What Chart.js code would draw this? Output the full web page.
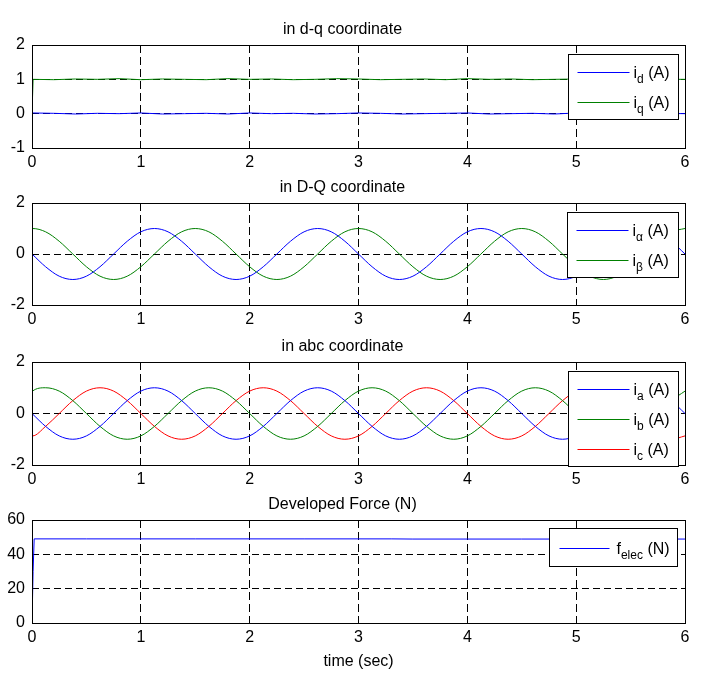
<!DOCTYPE html>
<html>
<head>
<meta charset="utf-8">
<script src="https://cdn.jsdelivr.net/npm/chart.js"></script>
<style>
body {
  margin: 0;
  background: #fff;
}
#wrap {
  position: relative;
  width: 723px;
  height: 674px;
  background: #fff;
}
canvas {
  position: absolute;
  left: 0;
}
</style>
</head>
<body>

<div id="wrap">
  <canvas id="chartDQ" width="723" height="158" style="top:15px"></canvas>
  <canvas id="chartAB" width="723" height="157" style="top:173px"></canvas>
  <canvas id="chartABC" width="723" height="158" style="top:332px"></canvas>
  <canvas id="chartF" width="723" height="184" style="top:490px"></canvas>
</div>

<script>

// ==========================
// data
// ==========================

// d-q currents (A)
const tDQ = [0, 0.01, 0.2, 0.4, 0.6, 0.8, 1.0, 1.2, 1.4, 1.6, 1.8, 2.0, 2.2, 2.4, 2.6, 2.8,
  3.0, 3.2, 3.4, 3.6, 3.8, 4.0, 4.2, 4.4, 4.6, 4.8, 5.0, 5.2, 5.4, 5.6, 5.8, 6.0];
const iD = [0, 0.02, 0.01, -0.01, 0.01, 0.0, 0.02, -0.01, 0.0, 0.01, -0.01, 0.02, 0.0, 0.01, -0.01, 0.0,
  0.02, 0.01, -0.01, 0.0, 0.01, 0.02, -0.01, 0.0, 0.01, -0.01, 0.02, 0.0, 0.01, 0.0, 0.01, 0.0];
const iQ = [0, 1.0, 0.99, 1.01, 1.0, 1.02, 0.99, 1.01, 1.0, 0.99, 1.02, 1.0, 1.01, 0.99, 1.0, 1.02,
  1.01, 0.99, 1.0, 1.01, 0.99, 1.02, 1.0, 1.01, 0.99, 1.0, 1.01, 1.0, 0.99, 1.01, 1.0, 1.0];

// stationary / phase currents (A)
const tAC = [0, 0.005, 0.125, 0.25, 0.375, 0.5, 0.625, 0.75, 0.875, 1, 1.125, 1.25, 1.375,
  1.5, 1.625, 1.75, 1.875, 2, 2.125, 2.25, 2.375, 2.5, 2.625, 2.75, 2.875,
  3, 3.125, 3.25, 3.375, 3.5, 3.625, 3.75, 3.875, 4, 4.125, 4.25, 4.375,
  4.5, 4.625, 4.75, 4.875, 5, 5.125, 5.25, 5.375, 5.5, 5.625, 5.75, 5.875, 6];

const iAlpha = [0, -0.02,
  -0.5, -0.87, -1, -0.87, -0.5, 0, 0.5, 0.87, 1, 0.87, 0.5, 0,
  -0.5, -0.87, -1, -0.87, -0.5, 0, 0.5, 0.87, 1, 0.87, 0.5, 0,
  -0.5, -0.87, -1, -0.87, -0.5, 0, 0.5, 0.87, 1, 0.87, 0.5, 0,
  -0.5, -0.87, -1, -0.87, -0.5, 0, 0.5, 0.87, 1, 0.87, 0.5, 0];

const iBeta = [0, 1,
  0.87, 0.5, 0, -0.5, -0.87, -1, -0.87, -0.5, 0, 0.5, 0.87, 1,
  0.87, 0.5, 0, -0.5, -0.87, -1, -0.87, -0.5, 0, 0.5, 0.87, 1,
  0.87, 0.5, 0, -0.5, -0.87, -1, -0.87, -0.5, 0, 0.5, 0.87, 1,
  0.87, 0.5, 0, -0.5, -0.87, -1, -0.87, -0.5, 0, 0.5, 0.87, 1];

const iA = [0, -0.02,
  -0.5, -0.87, -1, -0.87, -0.5, 0, 0.5, 0.87, 1, 0.87, 0.5, 0,
  -0.5, -0.87, -1, -0.87, -0.5, 0, 0.5, 0.87, 1, 0.87, 0.5, 0,
  -0.5, -0.87, -1, -0.87, -0.5, 0, 0.5, 0.87, 1, 0.87, 0.5, 0,
  -0.5, -0.87, -1, -0.87, -0.5, 0, 0.5, 0.87, 1, 0.87, 0.5, 0];

const iB = [0, 0.87,
  1, 0.87, 0.5, 0, -0.5, -0.87, -1, -0.87, -0.5, 0, 0.5, 0.87,
  1, 0.87, 0.5, 0, -0.5, -0.87, -1, -0.87, -0.5, 0, 0.5, 0.87,
  1, 0.87, 0.5, 0, -0.5, -0.87, -1, -0.87, -0.5, 0, 0.5, 0.87,
  1, 0.87, 0.5, 0, -0.5, -0.87, -1, -0.87, -0.5, 0, 0.5, 0.87];

const iC = [0, -0.87,
  -0.5, 0, 0.5, 0.87, 1, 0.87, 0.5, 0, -0.5, -0.87, -1, -0.87,
  -0.5, 0, 0.5, 0.87, 1, 0.87, 0.5, 0, -0.5, -0.87, -1, -0.87,
  -0.5, 0, 0.5, 0.87, 1, 0.87, 0.5, 0, -0.5, -0.87, -1, -0.87,
  -0.5, 0, 0.5, 0.87, 1, 0.87, 0.5, 0, -0.5, -0.87, -1, -0.87];

// developed force (N)
const tF = [0, 0.01, 0.02, 0.5, 1, 1.5, 2, 2.5, 3, 3.3, 3.5, 4, 4.5, 5, 5.5, 6];
const fElec = [0, 30, 49, 49, 49, 49, 49, 49, 49, 49, 48.9, 48.9, 48.9, 48.9, 48.9, 48.9];

// legend texts: [main, subscript, tail]
const dqLabels = [["i", "d", " (A)"], ["i", "q", " (A)"]];
const abLabels = [["i", "\u03b1", " (A)"], ["i", "\u03b2", " (A)"]];
const abcLabels = [["i", "a", " (A)"], ["i", "b", " (A)"], ["i", "c", " (A)"]];
const fLabels = [["f", "elec", " (N)"]];

const titles = ["in d-q coordinate", "in D-Q coordinate", "in abc coordinate", "Developed Force (N)"];
const xTitle = "time (sec)";


// ==========================
// style
// ==========================

const FONT = "'Liberation Sans', Arial, Helvetica, sans-serif";
const BLUE = "#0000ff";
const GREEN = "#008000";
const RED = "#ff0000";


// ==========================
// frame + legend plugin
// ==========================

function alignPx(v) {
  return Math.round(v - 0.5) + 0.5;
}

const frameLegend = {
  id: "frameLegend",
  afterDatasetsDraw(chart, args, opts) {

    const { ctx, chartArea: a } = chart;

    ctx.save();
    ctx.strokeStyle = "#000";
    ctx.lineWidth = 1;
    ctx.setLineDash([]);

    const l = alignPx(a.left), r = alignPx(a.right);
    const t = alignPx(a.top), b = alignPx(a.bottom);
    ctx.strokeRect(l, t, r - l, b - t);

    const x0 = Math.round(a.right - opts.right - opts.width) + 0.5;
    const y0 = Math.round(a.top + opts.top) + 0.5;

    ctx.fillStyle = "#fff";
    ctx.fillRect(x0, y0, opts.width, opts.height);
    ctx.strokeRect(x0, y0, opts.width, opts.height);

    chart.data.datasets.forEach((ds, i) => {

      const y = Math.round(y0 + opts.first + i * opts.step) + 0.5;

      ctx.strokeStyle = ds.borderColor;
      ctx.beginPath();
      ctx.moveTo(x0 + opts.lineFrom, y);
      ctx.lineTo(x0 + opts.lineTo, y);
      ctx.stroke();

      const [main, sub, tail] = ds.legendText;
      let x = x0 + opts.textX;
      const base = y + 5;

      ctx.fillStyle = "#000";
      ctx.textBaseline = "alphabetic";
      ctx.textAlign = "left";

      ctx.font = "16px " + FONT;
      ctx.fillText(main, x, base);
      x += ctx.measureText(main).width;

      ctx.font = "12px " + FONT;
      ctx.fillText(sub, x, base + 5);
      x += ctx.measureText(sub).width;

      ctx.font = "16px " + FONT;
      ctx.fillText(tail, x, base);

    });

    ctx.restore();
  }
};


// ==========================
// chart builder
// ==========================

function series(ts, vs, color, text, smooth) {
  return {
    data: ts.map((t, i) => ({ x: t, y: vs[i] })),
    borderColor: color,
    borderWidth: 1,
    pointRadius: 0,
    fill: false,
    tension: smooth ? 0.4 : 0,
    cubicInterpolationMode: smooth ? "monotone" : "default",
    legendText: text
  };
}

function makeChart(id, title, yMin, yMax, yStep, datasets, legendBox, withXTitle) {

  const tickFont = { family: FONT, size: 16 };

  return new Chart(document.getElementById(id), {
    type: "line",
    data: { datasets: datasets },
    options: {
      responsive: false,
      animation: false,
      events: [],
      layout: { padding: { left: 0, right: 38, top: 0, bottom: 0 } },
      plugins: {
        legend: { display: false },
        tooltip: { enabled: false },
        title: {
          display: true,
          text: title,
          color: "#000",
          font: { family: FONT, size: 16, weight: "normal" },
          padding: { top: 5.4, bottom: 5.4 }
        },
        frameLegend: legendBox
      },
      scales: {
        x: {
          type: "linear",
          min: 0,
          max: 6,
          ticks: { stepSize: 1, color: "#000", font: tickFont, padding: 5, maxRotation: 0 },
          grid: { color: "#000", lineWidth: 1, drawTicks: false },
          border: { display: false, dash: [8, 4] },
          title: {
            display: !!withXTitle,
            text: xTitle,
            color: "#000",
            font: { family: FONT, size: 16 },
            padding: { top: 0, bottom: 2.4 }
          },
          afterFit: s => { s.height = withXTitle ? 51 : 25; }
        },
        y: {
          min: yMin,
          max: yMax,
          ticks: { stepSize: yStep, color: "#000", font: tickFont, padding: 7 },
          grid: { color: "#000", lineWidth: 1, drawTicks: false },
          border: { display: false, dash: [7, 4] },
          afterFit: s => { s.width = 32; }
        }
      }
    },
    plugins: [frameLegend]
  });

}

const legendBase = { right: 7, top: 9, width: 110, first: 17, step: 30, lineFrom: 9, lineTo: 61, textX: 65 };

makeChart("chartDQ", titles[0], -1, 2, 1, [
  series(tDQ, iD, BLUE, dqLabels[0], false),
  series(tDQ, iQ, GREEN, dqLabels[1], false)
], { ...legendBase, height: 65 });

makeChart("chartAB", titles[1], -2, 2, 2, [
  series(tAC, iAlpha, BLUE, abLabels[0], true),
  series(tAC, iBeta, GREEN, abLabels[1], true)
], { ...legendBase, width: 111, height: 65 });

makeChart("chartABC", titles[2], -2, 2, 2, [
  series(tAC, iA, BLUE, abcLabels[0], true),
  series(tAC, iB, GREEN, abcLabels[1], true),
  series(tAC, iC, RED, abcLabels[2], true)
], { ...legendBase, height: 95 });

makeChart("chartF", titles[3], 0, 60, 20, [
  series(tF, fElec, BLUE, fLabels[0], false)
], { ...legendBase, right: 8, top: 8, width: 128, height: 38, first: 19, lineFrom: 10, lineTo: 60, textX: 67 }, true);

</script>

</body>
</html>
